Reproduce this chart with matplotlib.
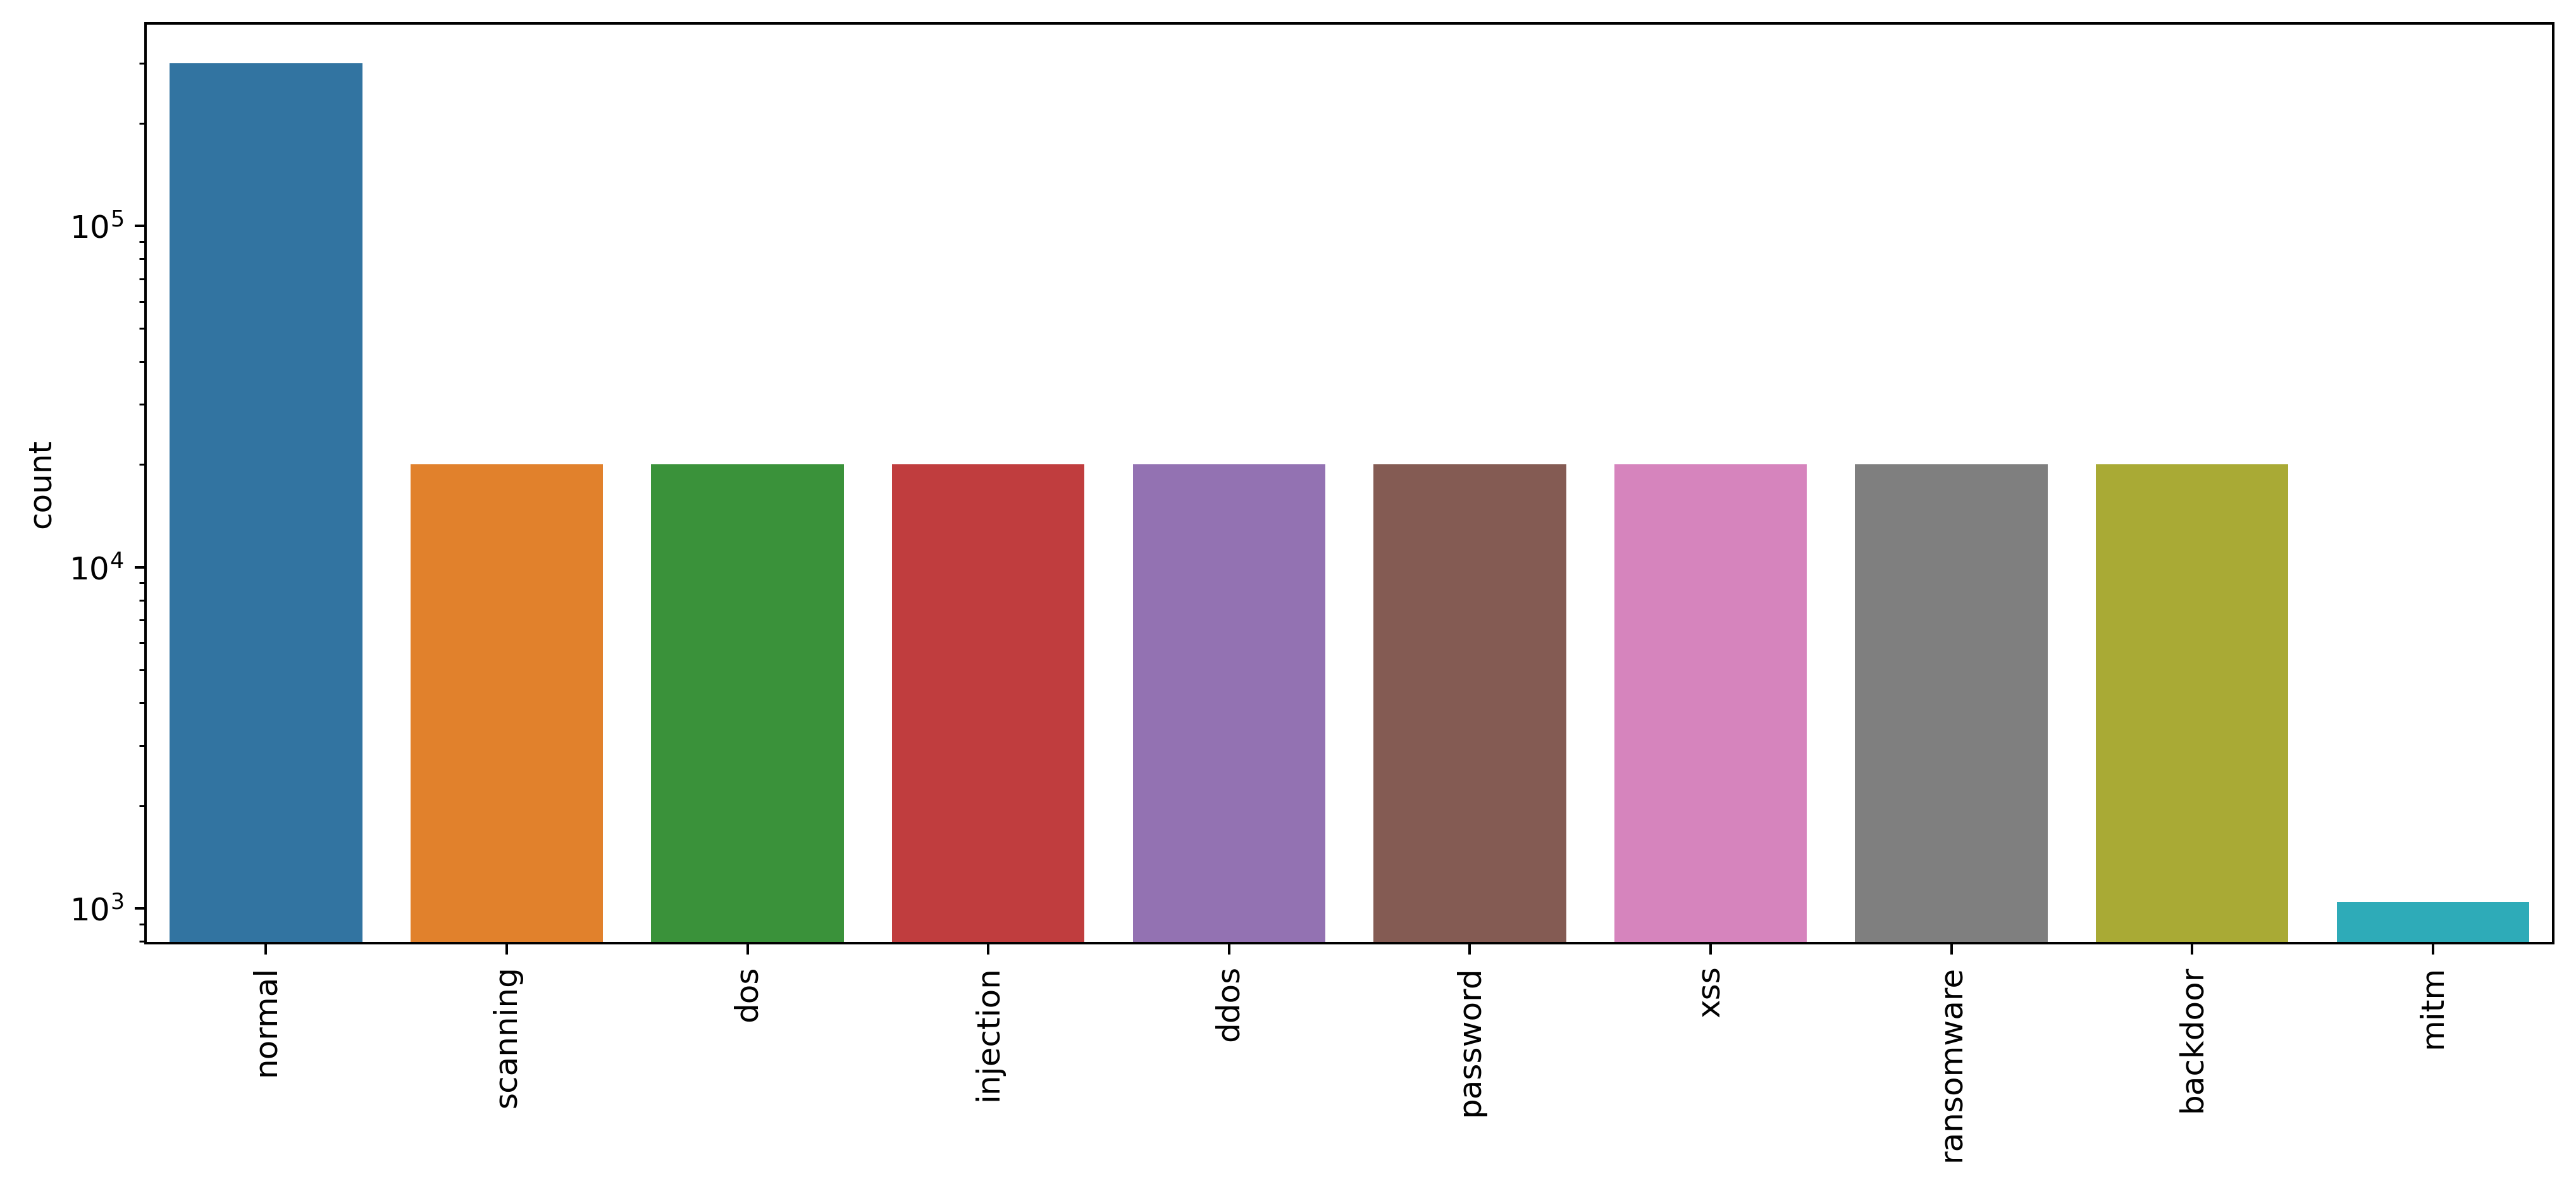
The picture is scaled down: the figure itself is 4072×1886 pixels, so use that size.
import matplotlib
matplotlib.use("Agg")
import matplotlib.pyplot as plt
import seaborn as sns

# class counts per attack type
categories = ["normal", "scanning", "dos", "injection", "ddos",
              "password", "xss", "ransomware", "backdoor", "mitm"]
counts = [300000, 20000, 20000, 20000, 20000,
          20000, 20000, 20000, 20000, 1043]

colors = [sns.desaturate(c, 0.75) for c in sns.color_palette("tab10", len(categories))]

fig = plt.figure(figsize=(4072 / 360, 1886 / 360), dpi=360)
ax = fig.add_axes([0.0565, 0.2094, 0.9347, 0.771])

ax.bar(range(len(categories)), counts, width=0.8, color=colors)
ax.set_yscale("log")
ax.set_xlim(-0.5, len(categories) - 0.5)
ax.set_ylim(791, 3.92e5)

ax.set_xticks(range(len(categories)))
ax.set_xticklabels(categories, rotation=90)
ax.set_ylabel("count")

fig.savefig("out.png", dpi=360)
